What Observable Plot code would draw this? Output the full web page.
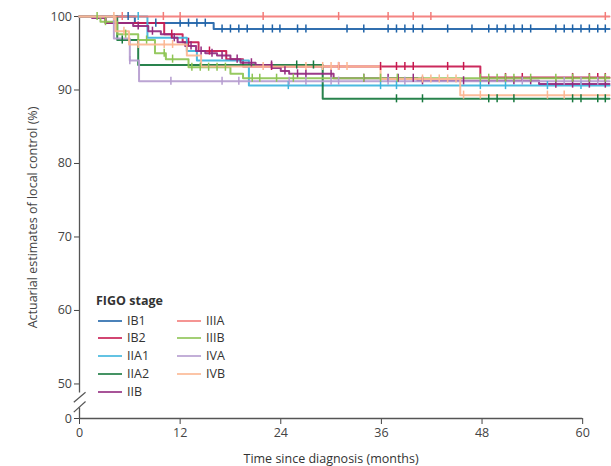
<!DOCTYPE html>
<html><head><meta charset="utf-8">
<script src="https://cdn.jsdelivr.net/npm/d3@7"></script>
<script src="https://cdn.jsdelivr.net/npm/@observablehq/plot@0.6"></script>
<style>
body{margin:0;background:#fff;}
#wrap{position:relative;width:611px;height:466px;font-family:"Open Sans",sans-serif;color:#333;}
.lg{position:absolute;font-size:12.5px;line-height:18px;white-space:nowrap;color:#333;display:flex;align-items:center;}
.lg svg{margin-right:5px;}
.lgt{position:absolute;left:96px;top:292px;font-size:12.5px;font-weight:bold;color:#333;}
</style></head>
<body><div id="wrap"><div id="chart"></div></div>
<script>
// ---- data ----
const stages = ["IB1","IB2","IIA1","IIA2","IIB","IIIA","IIIB","IVA","IVB"];
const colors = ["#1f63a8","#c7184f","#3cb4dd","#17783e","#932a7f","#f37b78","#8dc453","#b59ccf","#fcb792"];

const IB1_t = [0, 6.6, 16.0];
const IB1_s = [100, 99.1, 98.3];
const IB1_c = [5.8, 9.1, 12, 13, 14, 15, 17, 18, 19, 20, 21.9, 23, 23.9, 26, 27, 31.9, 33.9, 36.8, 37.8, 38.8, 39.8, 40.9, 43.9, 46.8, 48.8, 49.8, 50.8, 51.8, 52.8, 53.8, 56.8, 57.8, 58.8, 59.8, 60.8, 61.8, 62.7];

const IB2_t = [0, 3.1, 10.1, 12.3, 14.2, 17.5, 19.5, 47.8];
const IB2_s = [100, 99.1, 97.6, 96.5, 95.3, 94.2, 93.2, 91.7];
const IB2_c = [11, 13, 15.5, 22.9, 30.9, 35.9, 37.8, 38.8, 39.8, 43.9, 45.8, 50.8, 52.8, 58.8, 60.8, 61.8, 62.7];

const IIA1_t = [0, 8.1, 12.8, 14.0, 20.2];
const IIA1_s = [100, 97.1, 95.3, 94.0, 90.6];
const IIA1_c = [7.0, 24.9, 35.9, 37.8, 47.8, 50.8, 55.8, 59.8];

const IIA2_t = [0, 4.5, 7.0, 29.0];
const IIA2_s = [100, 96.8, 93.4, 88.8];
const IIA2_c = [5.1, 25.9, 27.9, 37.8, 40.9, 48.8, 49.8, 51.8, 58.8, 59.8, 61.8, 62.7];

const IIB_t = [0, 1.5, 3.1, 6.4, 8.2, 9.7, 11.0, 11.7, 12.6, 13.9, 15.0, 16.4, 18.0, 19.2, 21.0, 23.0, 24.0, 25.0, 30.3, 40.3, 54.8];
const IIB_s = [100, 99.8, 99.1, 98.7, 98.0, 97.6, 97.1, 96.5, 96.0, 95.3, 95.0, 94.7, 94.2, 93.7, 93.4, 93.0, 92.6, 92.2, 91.6, 91.25, 90.8];
const IIB_c = [7.0, 8.7, 11.3, 13.3, 14.5, 15.8, 17.0, 18.8, 20.5, 22.9, 24.5, 26.0, 27.0, 30.0, 33.9, 36.8, 38.0, 39.8, 40.9, 45.8, 48.8, 51.8, 53.8, 56.8, 58.8, 60.8, 62.7];

const IIIA_t = [0];
const IIIA_s = [100];
const IIIA_c = [5.1, 10, 12, 21.9, 30.9, 36.8, 39.8, 41.9, 62.7];

const IIIB_t = [0, 2.5, 4.5, 7.0, 9.0, 10.3, 13.0, 18.0, 19.5];
const IIIB_s = [100, 99.3, 97.6, 96.8, 95.0, 94.2, 93.1, 92.2, 91.6];
const IIIB_c = [2.1, 3.1, 5.5, 8.0, 10.1, 11.1, 13.4, 14.4, 15.4, 16.4, 17.4, 20.6, 21.5, 23.5, 25.5, 33.9, 35.9, 37.9, 47.8, 48.8, 49.8, 50.8, 51.8, 53.8, 56.8, 58.8, 60.8, 62.7];

const IVA_t = [0, 4.1, 6.0, 7.1];
const IVA_s = [100, 97.0, 94.0, 91.2];
const IVA_c = [6.0, 10.9, 17.0, 19.0, 25.0, 27.0, 30.0, 30.9, 36.8, 38.8, 52.8, 57.8, 59.8, 61.8];

const IVB_t = [0, 4.3, 5.9, 12.8, 14.5, 35.9, 45.4];
const IVB_s = [100, 98.0, 96.2, 94.7, 93.2, 91.5, 89.3];
const IVB_c = [4.1, 5.3, 7.0, 10.1, 11.1, 21.9, 27.0, 29.0, 30.0, 30.9, 31.9, 40.9, 41.9, 42.9, 43.9, 44.9, 45.8, 47.8, 55.8, 57.8];

const xTicks = [0, 12, 24, 36, 48, 60];
const yTicks = [0, 50, 60, 70, 80, 90, 100];
const xTitle = "Time since diagnosis (months)";
const yTitle = "Actuarial estimates of local control (%)";
const legendTitle = "FIGO stage";

// ---- layout constants ----
const X_END = 63.2;
const Y_ZERO = 45.3;           // where the broken axis puts 0
const yPos = v => v < 50 ? Y_ZERO : v;

const series = {
  IB1:[IB1_t,IB1_s,IB1_c], IB2:[IB2_t,IB2_s,IB2_c], IIA1:[IIA1_t,IIA1_s,IIA1_c],
  IIA2:[IIA2_t,IIA2_s,IIA2_c], IIB:[IIB_t,IIB_s,IIB_c], IIIA:[IIIA_t,IIIA_s,IIIA_c],
  IIIB:[IIIB_t,IIIB_s,IIIB_c], IVA:[IVA_t,IVA_s,IVA_c], IVB:[IVB_t,IVB_s,IVB_c]
};

const stepRows = [], censorRows = [];
for (const st of stages) {
  const [t, s, c] = series[st];
  t.forEach((ti, i) => stepRows.push({stage: st, t: ti, s: s[i]}));
  stepRows.push({stage: st, t: X_END, s: s[s.length - 1]});
  for (const ci of c) {
    let k = 0;
    for (let i = 0; i < t.length; i++) if (t[i] <= ci) k = i;
    censorRows.push({stage: st, t: ci, s: s[k]});
  }
}

const yAxisSegs = [{x: 0, y1: 100, y2: 48.84}, {x: 0, y1: 46.8, y2: Y_ZERO}];
const breakSegs = [{x1: -0.68, x2: 0.72, y1: 47.52, y2: 48.88}, {x1: -0.68, x2: 0.72, y1: 46.16, y2: 47.62}];

const tickLabel = new Map(yTicks.map(v => [yPos(v), String(v)]));

const plot = Plot.plot({
  width: 611, height: 466,
  marginLeft: 79, marginRight: 2, marginTop: 16, marginBottom: 48,
  style: {fontFamily: "'Open Sans', sans-serif", fontSize: "12.5px", color: "#444", background: "white", overflow: "visible"},
  x: {domain: [0, X_END], ticks: xTicks, tickSize: 6, tickPadding: 4, label: null},
  y: {domain: [Y_ZERO, 100], ticks: yTicks.map(yPos), tickFormat: v => tickLabel.get(v), tickSize: 5, tickPadding: 2.5,
      label: yTitle, labelAnchor: "center", labelOffset: 51, labelArrow: false},
  color: {domain: stages, range: colors},
  marks: [
    Plot.link(yAxisSegs, {x1: "x", x2: "x", y1: "y1", y2: "y2", stroke: "#555", strokeWidth: 1.3}),
    Plot.link(breakSegs, {x1: "x1", x2: "x2", y1: "y1", y2: "y2", stroke: "#555", strokeWidth: 1.2}),
    Plot.ruleY([Y_ZERO], {x1: xTicks[0], x2: xTicks[xTicks.length - 1], stroke: "#555", strokeWidth: 1.3}),
    Plot.line(stepRows, {x: "t", y: "s", z: "stage", stroke: "stage", curve: "step-after", strokeWidth: 2, strokeOpacity: 0.92}),
    Plot.ruleX(censorRows, {x: "t", y1: d => d.s - 0.55, y2: d => d.s + 0.55, stroke: "stage", strokeWidth: 1.5}),
    Plot.text([xTitle], {x: (xTicks[0] + xTicks[xTicks.length - 1]) / 2, frameAnchor: "bottom", dy: 44, fill: "#333", fontSize: 12.5})
  ]
});
document.getElementById("chart").appendChild(plot);

// legend overlay
const wrap = document.getElementById("wrap");
const lt = document.createElement("div");
lt.className = "lgt"; lt.textContent = legendTitle; wrap.appendChild(lt);
const NS = "http://www.w3.org/2000/svg";
stages.forEach((st, i) => {
  const col = i < 5 ? 0 : 1, row = i < 5 ? i : i - 5;
  const d = document.createElement("div");
  d.className = "lg";
  d.style.left = (col ? 177 : 98) + "px";
  d.style.top = (320.7 + row * 17.75 - 9) + "px";
  const sv = document.createElementNS(NS, "svg");
  sv.setAttribute("width", "24"); sv.setAttribute("height", "4");
  const ln = document.createElementNS(NS, "line");
  ln.setAttribute("x1", "0"); ln.setAttribute("x2", "24");
  ln.setAttribute("y1", "2"); ln.setAttribute("y2", "2");
  ln.setAttribute("stroke", colors[i]); ln.setAttribute("stroke-width", "1.6");
  sv.appendChild(ln);
  d.appendChild(sv);
  d.appendChild(document.createTextNode(st));
  wrap.appendChild(d);
});
</script>
</body></html>
